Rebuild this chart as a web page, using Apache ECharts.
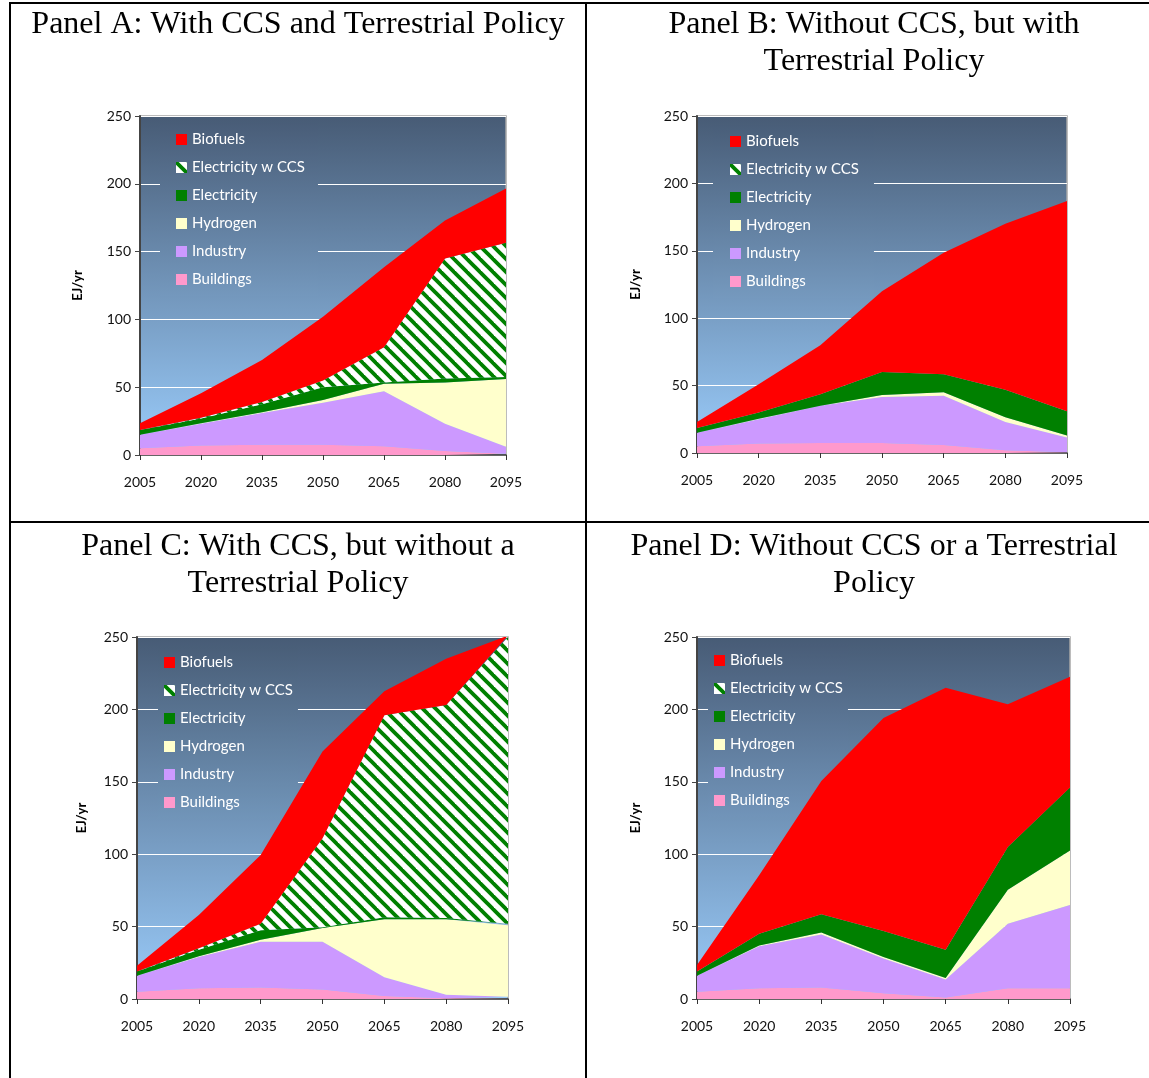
<!DOCTYPE html>
<html>
<head>
<meta charset="utf-8">
<script src="https://cdn.jsdelivr.net/npm/echarts@6/dist/echarts.min.js"></script>
<style>
html,body{margin:0;padding:0;background:#fff;}
#chart{position:absolute;left:0;top:0;width:1149px;height:1078px;}
.ln{position:absolute;background:#000;}
</style>
</head>
<body>
<div id="chart"></div>
<div class="ln" style="left:9px;top:2px;width:1140px;height:2px;"></div>
<div class="ln" style="left:9px;top:2px;width:2px;height:1076px;"></div>
<div class="ln" style="left:585px;top:2px;width:2px;height:1076px;"></div>
<div class="ln" style="left:9px;top:521px;width:1140px;height:2px;"></div>
<script>
// ---------- data ----------
const years = ['2005', '2020', '2035', '2050', '2065', '2080', '2095'];
const seriesNames = ['Buildings', 'Industry', 'Hydrogen', 'Electricity', 'Electricity w CCS', 'Biofuels'];
const legendOrder = ['Biofuels', 'Electricity w CCS', 'Electricity', 'Hydrogen', 'Industry', 'Buildings'];
const yTicks = [0, 50, 100, 150, 200, 250];
const panelTitles = [
  'Panel A: With CCS and Terrestrial Policy',
  'Panel B: Without CCS, but with\nTerrestrial Policy',
  'Panel C: With CCS, but without a\nTerrestrial Policy',
  'Panel D: Without CCS or a Terrestrial\nPolicy'
];
const yAxisName = 'EJ/yr';

// Panel A: With CCS and Terrestrial Policy (EJ/yr per layer)
const A_buildings   = [5, 7, 7.5, 7.5, 6.5, 3, 1];
const A_industry    = [10, 16, 23.5, 31, 40.5, 20, 5];
const A_hydrogen    = [0, 0.5, 0.5, 2, 5.5, 30.5, 50];
const A_electricity = [3.5, 3.5, 6, 9.5, 1, 3, 1.5];
const A_elecCCS     = [0, 0.5, 1.5, 5, 26, 88.5, 99];
const A_biofuels    = [5, 18, 31, 47, 59, 28, 40];

// Panel B: Without CCS, but with Terrestrial Policy
const B_buildings   = [5, 7, 7.5, 7.5, 6, 2, 0.5];
const B_industry    = [10, 18, 27.5, 34, 36.5, 21, 11];
const B_hydrogen    = [0, 0.5, 0, 1.5, 2.5, 3.5, 1.5];
const B_electricity = [3.5, 4.5, 8.5, 17, 13.5, 20.5, 18];
const B_elecCCS     = [0, 0, 0, 0, 0, 0, 0];
const B_biofuels    = [4.5, 21, 36.5, 60, 90, 123, 156];

// Panel C: With CCS, but without a Terrestrial Policy
const C_buildings   = [5, 7.5, 8, 6.5, 2, 0.5, 0.3];
const C_industry    = [11, 21.5, 31.5, 33, 13, 2.5, 1.2];
const C_hydrogen    = [0, 0.5, 1.5, 9.5, 40, 52, 49.5];
const C_electricity = [3, 4.5, 6.5, 0.5, 1.5, 1, 1];
const C_elecCCS     = [0, 1, 4.5, 61.5, 139.5, 147, 198];
const C_biofuels    = [4, 23, 47.5, 60, 16.5, 32, 1];

// Panel D: Without CCS or a Terrestrial Policy
const D_buildings   = [5, 7.5, 8, 4, 1, 7.5, 7.5];
const D_industry    = [11, 29, 36.5, 24, 12.5, 44.5, 57.5];
const D_hydrogen    = [0, 0.5, 1.5, 1, 1, 23.5, 37.5];
const D_electricity = [3, 8, 12.5, 18, 19.5, 29.5, 43.5];
const D_elecCCS     = [0, 0, 0, 0, 0, 0, 0];
const D_biofuels    = [4.5, 40.5, 92, 147, 181, 98.5, 76.5];

const panelData = [
  [A_buildings, A_industry, A_hydrogen, A_electricity, A_elecCCS, A_biofuels],
  [B_buildings, B_industry, B_hydrogen, B_electricity, B_elecCCS, B_biofuels],
  [C_buildings, C_industry, C_hydrogen, C_electricity, C_elecCCS, C_biofuels],
  [D_buildings, D_industry, D_hydrogen, D_electricity, D_elecCCS, D_biofuels]
];

// ---------- styling / layout ----------
const T = 13;
const stripe = document.createElement('canvas');
stripe.width = T; stripe.height = T;
(function(){
  const c = stripe.getContext('2d');
  c.fillStyle = '#ffffff'; c.fillRect(0, 0, T, T);
  c.strokeStyle = '#008000'; c.lineWidth = 3.8;
  [-T, 0, T].forEach(function(k){
    c.beginPath(); c.moveTo(-4, -4 + k); c.lineTo(T + 4, T + 4 + k); c.stroke();
  });
})();
const ccsPattern = { image: stripe, repeat: 'repeat' };

const colors = {
  'Buildings': '#ff99cc',
  'Industry': '#cc99ff',
  'Hydrogen': '#ffffcc',
  'Electricity': '#008000',
  'Electricity w CCS': ccsPattern,
  'Biofuels': '#ff0000'
};

const topCol = [71, 91, 117];
const botCol = [155, 205, 252];
function mix(f){
  const c = topCol.map(function(v, i){ return Math.round(v + (botCol[i] - v) * f); });
  return 'rgb(' + c.join(',') + ')';
}
function vGrad(f0, f1){
  return { type: 'linear', x: 0, y: 0, x2: 0, y2: 1,
    colorStops: [{ offset: 0, color: mix(f0) }, { offset: 1, color: mix(f1) }] };
}

const grids = [
  { left: 140, top: 116, width: 366, height: 339 },
  { left: 697, top: 116, width: 370, height: 337 },
  { left: 137, top: 637, width: 371, height: 362 },
  { left: 697, top: 637, width: 373, height: 362 }
];
const titlePos = [
  { x: 298, y: 6 },
  { x: 874, y: 6 },
  { x: 298, y: 528 },
  { x: 874, y: 528 }
];
const legendPos = [
  { left: 160, top: 123, pad: [9, 13, 9, 16] },
  { left: 713, top: 125, pad: [9, 15, 9, 17] },
  { left: 158, top: 646, pad: [9, 5, 9, 6] },
  { left: 708, top: 644, pad: [9, 5, 9, 6] }
];
const legendH = 174;
const nameGaps = [56, 55, 49, 55];

const option = {
  animation: false,
  title: [], grid: [], xAxis: [], yAxis: [], legend: [], series: []
};

grids.forEach(function(g, p){
  option.title.push({
    text: panelTitles[p],
    left: titlePos[p].x, top: titlePos[p].y, textAlign: 'center',
    padding: 0,
    textStyle: { fontFamily: 'Liberation Serif', fontSize: 32, lineHeight: 37,
      fontWeight: 'normal', color: '#000' }
  });
  option.grid.push({
    left: g.left, top: g.top, width: g.width, height: g.height,
    show: true, backgroundColor: vGrad(0, 1),
    borderColor: '#a6a6a6', borderWidth: 1.5
  });
  option.xAxis.push({
    type: 'category', gridIndex: p, data: years, boundaryGap: false,
    axisLine: { lineStyle: { color: '#333', width: 1.5 } },
    axisTick: { length: 5, lineStyle: { color: '#333' } },
    axisLabel: { color: '#111', fontFamily: 'Lato', fontSize: 14, margin: 20 },
    splitLine: { show: false }
  });
  option.yAxis.push({
    type: 'value', gridIndex: p, min: yTicks[0], max: yTicks[yTicks.length - 1], interval: 50,
    name: yAxisName, nameLocation: 'middle', nameGap: nameGaps[p],
    nameTextStyle: { fontFamily: 'Lato', fontWeight: 'bold', fontSize: 13, color: '#000' },
    axisLine: { show: true, lineStyle: { color: '#444', width: 2 } },
    axisTick: { show: true, length: 5, lineStyle: { color: '#444' } },
    axisLabel: { color: '#111', fontFamily: 'Lato', fontSize: 14, margin: 9 },
    splitLine: { show: true, lineStyle: { color: '#ffffff', width: 1.2 } }
  });
  const lp = legendPos[p];
  const f0 = (lp.top - g.top) / g.height;
  const f1 = (lp.top + legendH - g.top) / g.height;
  option.legend.push({
    data: legendOrder, orient: 'vertical',
    left: lp.left, top: lp.top, padding: lp.pad,
    itemWidth: 11, itemHeight: 11, itemGap: 13, icon: 'rect',
    backgroundColor: vGrad(f0, f1),
    selectedMode: false, z: 1,
    textStyle: { color: '#ffffff', fontFamily: 'Lato', fontSize: 15 }
  });
  seriesNames.forEach(function(n, i){
    option.series.push({
      name: n, type: 'line', xAxisIndex: p, yAxisIndex: p,
      stack: 'panel' + p, data: panelData[p][i],
      symbol: 'none', smooth: false,
      lineStyle: { width: 0 },
      itemStyle: { color: colors[n] },
      areaStyle: { color: colors[n], opacity: 1 },
      z: 2
    });
  });
});

const chart = echarts.init(document.getElementById('chart'), null, { renderer: 'canvas' });
chart.setOption(option);
</script>
</body>
</html>
